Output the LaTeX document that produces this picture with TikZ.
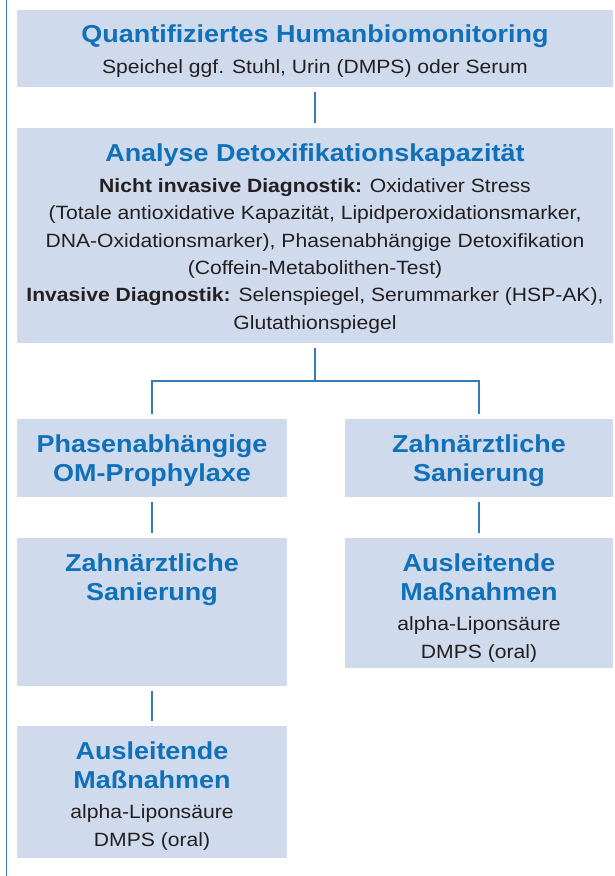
\documentclass[tikz,border=0pt]{standalone}
\usepackage{fontspec}
\setmainfont[FakeStretch=1.1]{Liberation Sans}
\usetikzlibrary{positioning}
\definecolor{boxblue}{RGB}{207,218,237}
\definecolor{headblue}{RGB}{16,112,184}
\definecolor{lineblue}{RGB}{52,124,184}
\definecolor{txtgray}{RGB}{35,31,32}
\newcommand{\hd}[1]{{\color{headblue}\fontsize{24.5}{27.3}\selectfont\bfseries #1}}

\begin{document}
\begin{tikzpicture}[x=1pt, y=-1pt,
  box/.style={fill=boxblue, inner sep=0pt},
  txt/.style={align=center, inner sep=0pt, text=txtgray, font=\fontsize{19.2}{27.3}\selectfont},
  link/.style={draw=lineblue, line width=1.1pt, shorten <=5pt, shorten >=5pt}]
\def\wide{596pt}
\def\narrow{270pt}
\def\colL{152}
\def\colR{479}
\def\gap{16pt}

\useasboundingbox (0,0) rectangle (614,876);

%Frame line
\draw[lineblue, line width=1.5pt] (6.5,0) -- (6.5,876);

%Top
\node (mon) at (315,48.5) [box, minimum width=\wide, minimum height=77pt] {};
\node (mon-t) [txt, below=15pt of mon.north] {\hd{Quantifiziertes Humanbiomonitoring}\\[3pt]
  Speichel ggf. Stuhl, Urin (DMPS) oder Serum};

%Analyse
\node (ana) at (315,235.5) [box, minimum width=\wide, minimum height=215pt] {};
\node (ana-t) [txt, below=\gap of ana.north] {\hd{Analyse Detoxifikationskapazität}\\[3.5pt]
  \textbf{Nicht invasive Diagnostik:} Oxidativer Stress\\
  (Totale antioxidative Kapazität, Lipidperoxidationsmarker,\\
  DNA-Oxidationsmarker), Phasenabhängige Detoxifikation\\
  (Coffein-Metabolithen-Test)\\
  \textbf{Invasive Diagnostik:} Selenspiegel, Serummarker (HSP-AK),\\
  Glutathionspiegel};

%Left branch
\node (pha) at (\colL,458) [box, minimum width=\narrow, minimum height=78pt] {};
\node (pha-t) [txt, below=\gap of pha.north] {\hd{Phasenabhängige}\\[1pt]\hd{OM-Prophylaxe}};
\node (zahn1) at (\colL,612) [box, minimum width=\narrow, minimum height=148pt] {};
\node (zahn1-t) [txt, below=\gap of zahn1.north] {\hd{Zahnärztliche}\\[1pt]\hd{Sanierung}};
\node (aus1) at (\colL,792) [box, minimum width=\narrow, minimum height=132pt] {};
\node (aus1-t) [txt, below=\gap of aus1.north] {\hd{Ausleitende}\\[1pt]\hd{Maßnahmen}\\[3.5pt]
  alpha-Liponsäure\\DMPS (oral)};

%Right branch
\node (zahn2) at (\colR,458) [box, minimum width=268pt, minimum height=78pt] {};
\node (zahn2-t) [txt, below=\gap of zahn2.north] {\hd{Zahnärztliche}\\[1pt]\hd{Sanierung}};
\node (aus2) at (\colR,603) [box, minimum width=268pt, minimum height=130pt] {};
\node (aus2-t) [txt, below=\gap of aus2.north] {\hd{Ausleitende}\\[1pt]\hd{Maßnahmen}\\[3.5pt]
  alpha-Liponsäure\\DMPS (oral)};

%Connectors
\coordinate (fork) at (315,381);
\draw[link] (mon) -- (ana);
\draw[link, shorten >=0pt] (ana) -- (fork);
\draw[link] (pha) |- (fork) -| (zahn2);
\draw[link] (pha) -- (zahn1);
\draw[link] (zahn1) -- (aus1);
\draw[link] (zahn2) -- (aus2);

\end{tikzpicture}
\end{document}
